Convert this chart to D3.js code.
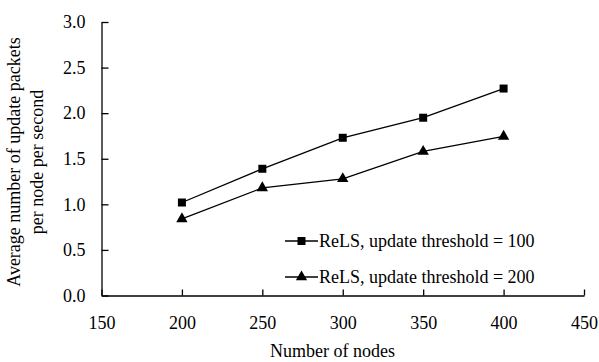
<!DOCTYPE html>
<html><head><meta charset="utf-8">
<script src="https://cdn.jsdelivr.net/npm/d3@7"></script>
<style>body{margin:0;background:#fff}svg{display:block}text{font-family:"Liberation Serif","Times New Roman",serif;fill:#000}</style>
</head><body><svg id="c" width="599" height="362"></svg>
<script>
const nodes = [200, 250, 300, 350, 400];
const threshold100 = [1.02, 1.39, 1.73, 1.95, 2.27];
const threshold200 = [0.84, 1.18, 1.28, 1.58, 1.745];
const seriesNames = ["ReLS, update threshold = 100", "ReLS, update threshold = 200"];
const xTicks = [150, 200, 250, 300, 350, 400, 450];
const yTicks = [0, 0.5, 1, 1.5, 2, 2.5, 3];

const svg = d3.select("#c");
const x = d3.scaleLinear().domain([150, 450]).range([101.5, 584]);
const y = d3.scaleLinear().domain([0, 3]).range([295.5, 22]);
const tfs = 18, lfs = 18;

const xAxis = d3.axisBottom(x).tickValues(xTicks).tickSizeInner(-6).tickSizeOuter(0).tickPadding(21).tickFormat(d3.format("d"));
const gx = svg.append("g").attr("transform", `translate(0,${y(0)})`).call(xAxis);
const yAxis = d3.axisLeft(y).tickValues(yTicks).tickSizeInner(-7).tickSizeOuter(0).tickPadding(16).tickFormat(d3.format(".1f"));
const gy = svg.append("g").attr("transform", `translate(${x(150)},0)`).call(yAxis);
[gx, gy].forEach(g => {
  g.attr("font-family", null).attr("font-size", null);
  g.selectAll("path,line").attr("stroke", "#000").attr("stroke-width", 1.3);
  g.selectAll("text").attr("font-size", tfs).attr("fill", "#000");
});
gx.selectAll("text").attr("dy", "0.68em");

const line = d3.line().x(d => x(d[0])).y(d => y(d[1]));
const sq = d3.symbol().type(d3.symbolSquare).size(64);
const tri = d3.symbol().type(d3.symbolTriangle).size(56);
const series = [
  {vals: threshold100, sym: sq, name: seriesNames[0]},
  {vals: threshold200, sym: tri, name: seriesNames[1]}
];
series.forEach(s => {
  const pts = nodes.map((n, i) => [n, s.vals[i]]);
  svg.append("path").datum(pts).attr("d", line).attr("fill", "none").attr("stroke", "#000").attr("stroke-width", 1.3);
  svg.selectAll(null).data(pts).enter().append("path")
    .attr("d", s.sym).attr("transform", d => `translate(${x(d[0])},${y(d[1])})`).attr("fill", "#000");
});

// legend
const legY = [241, 277];
series.forEach((s, i) => {
  const g = svg.append("g").attr("transform", `translate(285,${legY[i]})`);
  g.append("line").attr("x1", 0).attr("x2", 33).attr("stroke", "#000").attr("stroke-width", 1.3);
  g.append("path").attr("d", s.sym).attr("transform", "translate(16.5,0)").attr("fill", "#000");
  g.append("text").attr("x", 34).attr("dy", "0.35em").attr("font-size", lfs).text(s.name);
});

// axis titles
svg.append("text").attr("x", 332.5).attr("y", 357).attr("text-anchor", "middle").attr("font-size", lfs).text("Number of nodes");
const yl = svg.append("text").attr("transform", `translate(0,${162}) rotate(-90)`).attr("text-anchor", "middle").attr("font-size", lfs);
yl.append("tspan").attr("x", 0).attr("y", 20).text("Average number of update packets");
yl.append("tspan").attr("x", 0).attr("y", 43).text("per node per second");
</script></body></html>
